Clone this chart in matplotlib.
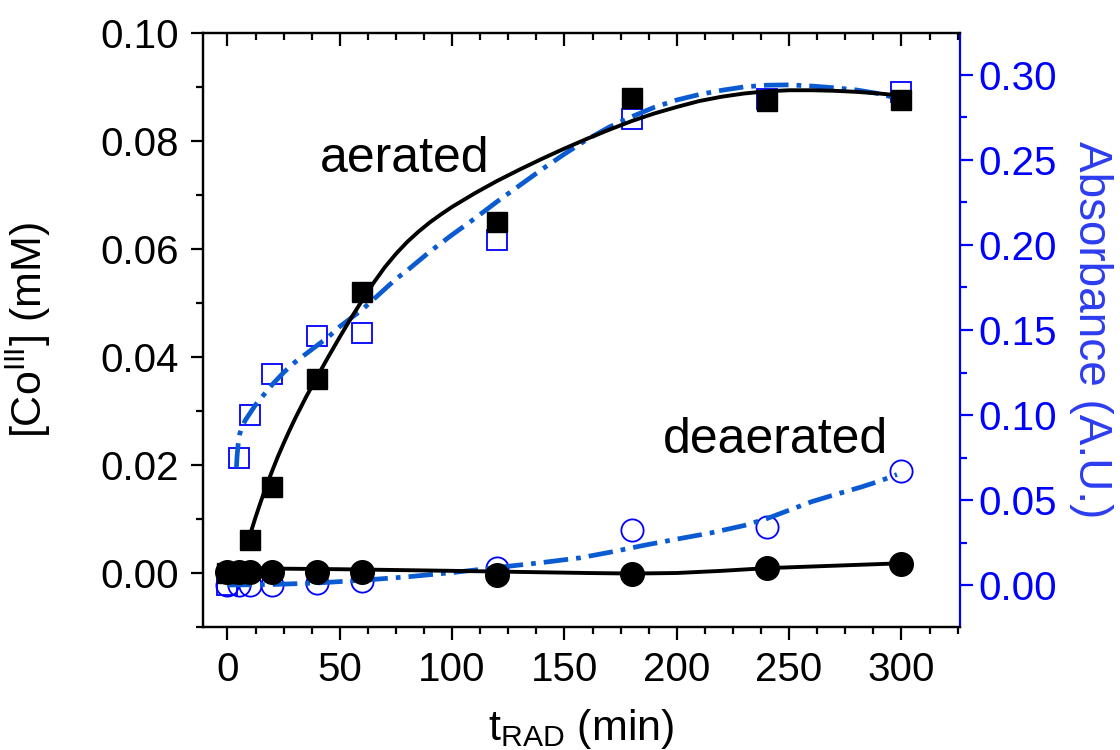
import numpy as np
import matplotlib
matplotlib.use('Agg')
import matplotlib.pyplot as plt
from matplotlib.ticker import MultipleLocator

plt.rcParams['font.family'] = ['Liberation Sans', 'DejaVu Sans']
plt.rcParams['mathtext.fontset'] = 'custom'
plt.rcParams['mathtext.rm'] = 'Liberation Sans'
plt.rcParams['mathtext.it'] = 'Liberation Sans'

# [Co III] measured (left axis)
t_aer = [0, 5, 10, 20, 40, 60, 120, 180, 240, 300]
co_aer = [0.0, 0.0, 0.0061, 0.016, 0.036, 0.052, 0.065, 0.088, 0.0874, 0.0876]
t_deaer = [0, 5, 10, 20, 40, 60, 120, 180, 240, 300]
co_deaer = [0.0002, 0.0002, 0.0002, 0.0002, 0.0002, 0.0001, -0.0004, -0.0001, 0.0009, 0.0016]

# absorbance measured (right axis)
t_abs_aer = [0, 5, 10, 20, 40, 60, 120, 180, 240, 300]
abs_aer = [0.0, 0.0747, 0.100, 0.124, 0.1465, 0.148, 0.203, 0.274, 0.286, 0.290]
t_abs_deaer = [0, 5, 10, 20, 40, 60, 120, 180, 240, 300]
abs_deaer = [0.0, 0.0, 0.0, 0.0, 0.001, 0.0024, 0.010, 0.0324, 0.034, 0.067]

# fit curves
fit_aer_t = [10, 12.5, 15, 17.5, 20, 22.5, 25, 27.5, 30, 35, 40, 45, 50, 55, 60, 65, 70,
             75, 80, 85, 90, 95, 100, 110, 120, 130, 140, 150, 160, 170, 180, 190, 200,
             210, 220, 230, 240, 250, 260, 270, 280, 290, 300]
fit_aer_c = [0.0070, 0.0103, 0.0134, 0.0163, 0.0190, 0.0216, 0.0240, 0.0263, 0.0285,
             0.0326, 0.0364, 0.0401, 0.0437, 0.0472, 0.0505, 0.0537, 0.0566, 0.0591,
             0.0613, 0.0632, 0.0649, 0.0664, 0.0678, 0.0703, 0.0726, 0.0747, 0.0767,
             0.0786, 0.0804, 0.0821, 0.0837, 0.0851, 0.0863, 0.0874, 0.0882, 0.0888,
             0.0892, 0.0894, 0.0894, 0.0893, 0.0891, 0.0888, 0.0884]
fit_deaer_t = [0, 50, 100, 130, 160, 180, 200, 220, 240, 260, 280, 300]
fit_deaer_c = [0.0009, 0.0007, 0.0004, 0.0002, 0.0, -0.0001, 0.0, 0.0004, 0.0009,
               0.0012, 0.0015, 0.0018]

fit_abs_aer_t = [4.0, 4.3, 4.8, 5.5, 6.5, 8, 10, 12.5, 15, 20, 25, 30, 35, 40, 45, 50,
                 55, 60, 65, 70, 75, 80, 90, 100, 110, 120, 130, 140, 150, 160, 170,
                 180, 190, 200, 210, 220, 230, 240, 250, 260, 270, 280, 290, 302]
fit_abs_aer_a = [0.069, 0.076, 0.083, 0.089, 0.093, 0.097, 0.101, 0.106, 0.110, 0.118,
                 0.125, 0.131, 0.136, 0.141, 0.146, 0.152, 0.157, 0.162, 0.168, 0.174,
                 0.180, 0.185, 0.196, 0.206, 0.2155, 0.2255, 0.235, 0.2445, 0.2535,
                 0.262, 0.2694, 0.2755, 0.281, 0.2853, 0.2885, 0.291, 0.293, 0.294,
                 0.2942, 0.2935, 0.2925, 0.2912, 0.289, 0.285]
fit_abs_deaer_t = [0, 20, 40, 60, 80, 100, 120, 140, 157, 170, 186, 200, 215, 230, 240,
                   250, 260, 270, 282, 290, 298]
fit_abs_deaer_a = [0.0, 0.0003, 0.0012, 0.0028, 0.0048, 0.0073, 0.0103, 0.0132, 0.016,
                   0.0192, 0.0235, 0.027, 0.0306, 0.035, 0.039, 0.044, 0.049, 0.053,
                   0.0576, 0.061, 0.065]

blue = '#0000ff'
fitblue = '#0a5ad2'
dashdot = (0, (5.2, 1.7, 1.0, 1.7))

fig = plt.figure(figsize=(11.2, 7.5), dpi=100)
ax = fig.add_axes([0.181, 0.164, 0.676, 0.792])
ax2 = ax.twinx()

ax.plot(fit_aer_t, fit_aer_c, color='black', lw=2.8, zorder=3)
ax.plot(fit_deaer_t, fit_deaer_c, color='black', lw=2.8, zorder=3)
ax.plot(t_aer, co_aer, 's', color='black', ms=14, zorder=4)
ax.plot(t_deaer, co_deaer, 'o', color='black', ms=17, zorder=4)

ax2.plot(fit_abs_aer_t, fit_abs_aer_a, color=fitblue, lw=3.4, ls=dashdot, zorder=5)
ax2.plot(fit_abs_deaer_t, fit_abs_deaer_a, color=fitblue, lw=3.4, ls=dashdot, zorder=5)
ax2.plot(t_abs_aer, abs_aer, 's', mfc='white', mec=blue, mew=1.3, ms=14, zorder=4)
ax2.plot(t_abs_deaer, abs_deaer, 'o', mfc='none', mec=blue, mew=1.3, ms=16, zorder=4)

ax.set_zorder(ax2.get_zorder() + 1)
ax.patch.set_visible(False)

ax.set_xlim(-11, 326)
ax.set_ylim(-0.01, 0.10)
ax2.set_ylim(-0.0247, 0.3247)

ax.xaxis.set_major_locator(MultipleLocator(50))
ax.xaxis.set_minor_locator(MultipleLocator(12.5))
ax.yaxis.set_minor_locator(MultipleLocator(0.01))
ax2.yaxis.set_minor_locator(MultipleLocator(0.025))
ax.set_yticks([0, 0.02, 0.04, 0.06, 0.08, 0.10])
ax.set_yticklabels(['0.00', '0.02', '0.04', '0.06', '0.08', '0.10'])
ax2.set_yticks([0, 0.05, 0.10, 0.15, 0.20, 0.25, 0.30])
ax2.set_yticklabels(['0.00', '0.05', '0.10', '0.15', '0.20', '0.25', '0.30'])

for sp in ax.spines.values():
    sp.set_linewidth(1.6)
for sp in ax2.spines.values():
    sp.set_linewidth(1.6)
ax2.spines['right'].set_color(blue)
ax.spines['right'].set_visible(False)

ax.tick_params(axis='x', which='both', bottom=True, top=True, direction='out',
               labelsize=29, width=1.6, pad=8)
ax.tick_params(axis='x', which='major', length=9)
ax.tick_params(axis='x', which='minor', length=5)
ax.tick_params(axis='y', which='both', left=True, right=False, direction='out',
               labelsize=29, width=1.6, pad=8)
ax.tick_params(axis='y', which='major', length=9)
ax.tick_params(axis='y', which='minor', length=5)
ax2.tick_params(axis='y', which='both', colors=blue, direction='out', labelsize=29,
                width=1.6, pad=4)
ax2.tick_params(axis='y', which='major', length=9)
ax2.tick_params(axis='y', which='minor', length=5)

# top ticks point inward
for t in ax.xaxis.get_major_ticks() + ax.xaxis.get_minor_ticks():
    t.tick2line.set_marker(3)

ax.set_xlabel(r't$_{\mathregular{RAD}}$ (min)', fontsize=31, labelpad=13)
ax.set_ylabel(r'[Co$^{\mathregular{III}}$] (mM)', fontsize=31, labelpad=34)
ax2.set_ylabel('Absorbance (A.U.)', fontsize=33, color='#2c3cf0', rotation=270, labelpad=41)

ax.text(79, 0.0743, 'aerated', fontsize=36, ha='center', va='baseline')
ax.text(244, 0.0222, 'deaerated', fontsize=36, ha='center', va='baseline')

plt.savefig('out.png', dpi=100)
